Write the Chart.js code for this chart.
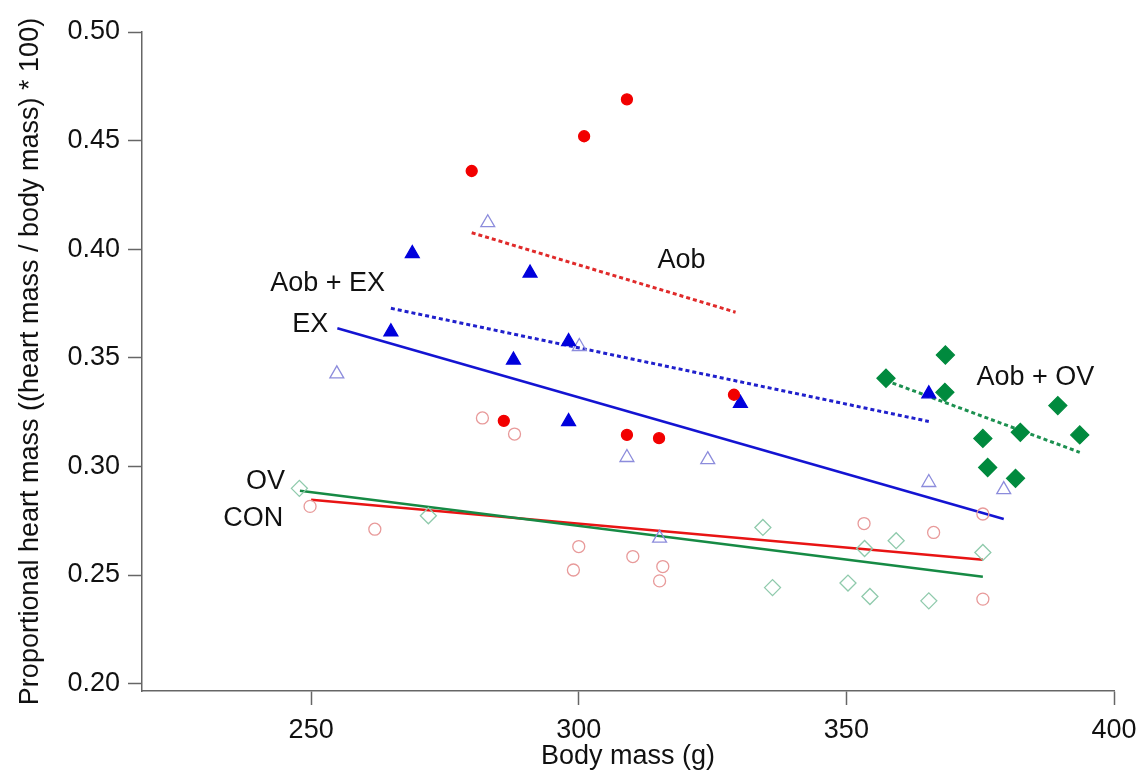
<!DOCTYPE html>
<html>
<head>
<meta charset="utf-8">
<script src="https://cdn.jsdelivr.net/npm/chart.js@4.4.1/dist/chart.umd.min.js"></script>
<style>
  html, body { margin: 0; padding: 0; background: #fff; }
</style>
</head>
<body>
<canvas id="chart" width="1141" height="774"></canvas>
<script>
/* ==============================
   Data
============================== */
// Aob - filled red circles
const aobX = [280, 286, 301, 309, 309, 315, 329];
const aobY = [0.436, 0.321, 0.452, 0.469, 0.3145, 0.313, 0.333];

// Aob + EX - filled blue triangles
const aobExX = [264.9, 268.9, 287.8, 290.9, 298.1, 298.1, 330.2, 365.4];
const aobExY = [0.362, 0.398, 0.349, 0.389, 0.3575, 0.3206, 0.329, 0.3334];

// EX - open blue triangles
const exX = [254.8, 283.0, 300.1, 309.0, 315.1, 324.1, 365.4, 379.4];
const exY = [0.3426, 0.4122, 0.3552, 0.3041, 0.267, 0.3031, 0.2926, 0.2893];

// OV - open green diamonds
const ovX = [247.8, 271.9, 334.4, 336.2, 350.3, 353.4, 354.4, 359.3, 365.4, 375.5];
const ovY = [0.2899, 0.2773, 0.2719, 0.2442, 0.2463, 0.2622, 0.2401, 0.2658, 0.2381, 0.2604];

// CON - open red circles
const conX = [249.8, 261.9, 282.0, 288.0, 299.0, 300.0, 310.1, 315.1, 315.7, 353.3, 366.3, 375.5, 375.5];
const conY = [0.2816, 0.2711, 0.3223, 0.3149, 0.2523, 0.2631, 0.2585, 0.2473, 0.2539, 0.2737, 0.2696, 0.2781, 0.2389];

// Aob + OV - filled green diamonds
const aobOvX = [357.4, 368.4, 368.5, 375.5, 376.4, 381.6, 382.5, 389.5, 393.6];
const aobOvY = [0.3406, 0.3341, 0.3513, 0.3129, 0.2995, 0.2945, 0.3157, 0.328, 0.3145];

// regression lines (end points)
const fitAobX = [280, 329.3];
const fitAobY = [0.4076, 0.371];
const fitAobExX = [264.9, 365.4];
const fitAobExY = [0.3728, 0.3207];
const fitExX = [254.9, 379.4];
const fitExY = [0.3636, 0.2758];
const fitOvX = [247.9, 375.5];
const fitOvY = [0.2888, 0.2492];
const fitConX = [250, 375.5];
const fitConY = [0.2847, 0.257];
const fitAobOvX = [357.4, 393.6];
const fitAobOvY = [0.3395, 0.3065];

// group labels (anchored in data units)
const groupLabels = ['Aob', 'Aob + EX', 'EX', 'Aob + OV', 'OV', 'CON'];
const labelX = [319.2, 263.8, 253.2, 374.3, 245.1, 244.8];
const labelY = [0.3948, 0.3843, 0.3652, 0.341, 0.2931, 0.2758];
const labelAlign = ['center', 'right', 'right', 'left', 'right', 'right'];

// ticks
const xTicks = [250, 300, 350, 400];
const yTicks = [0.20, 0.25, 0.30, 0.35, 0.40, 0.45, 0.50];

/* ==============================
   Helpers
============================== */
const FONT = '"Liberation Sans", Arial, Helvetica, sans-serif';
const FSIZE = 27;

function pts(xs, ys) {
    return xs.map((x, i) => ({ x: x, y: ys[i] }));
}

function markers(label, xs, ys, style) {
    return Object.assign({
        label: label,
        data: pts(xs, ys),
        showLine: false,
        borderWidth: 1.3,
        clip: false
    }, style);
}

function fitLine(label, xs, ys, color, dashed) {
    return {
        label: label,
        data: pts(xs, ys),
        showLine: true,
        pointRadius: 0,
        borderColor: color,
        borderWidth: dashed ? 3 : 2.5,
        borderDash: dashed ? [4, 3] : [],
        fill: false,
        order: 5
    };
}

const groupLabelPlugin = {
    id: 'groupLabels',
    afterDatasetsDraw(chart) {
        const { ctx, scales } = chart;
        ctx.save();
        ctx.font = FSIZE + 'px ' + FONT;
        ctx.fillStyle = '#111';
        ctx.textBaseline = 'middle';
        groupLabels.forEach((t, i) => {
            ctx.textAlign = labelAlign[i];
            ctx.fillText(t, scales.x.getPixelForValue(labelX[i]), scales.y.getPixelForValue(labelY[i]));
        });
        ctx.restore();
    }
};

/* ==============================
   Chart
============================== */
const axisColor = '#666';

new Chart(document.getElementById('chart'), {
    type: 'scatter',
    data: {
        datasets: [
            markers('Aob', aobX, aobY, { pointStyle: 'circle', pointRadius: 5.5, backgroundColor: '#f20000', borderColor: '#f20000', order: 1 }),
            markers('Aob + EX', aobExX, aobExY, { pointStyle: 'triangle', pointRadius: 8, backgroundColor: '#0000dc', borderColor: '#0000dc', order: 1 }),
            markers('EX', exX, exY, { pointStyle: 'triangle', pointRadius: 8, backgroundColor: 'rgba(0,0,0,0)', borderColor: '#8c8cdc', order: 2 }),
            markers('OV', ovX, ovY, { pointStyle: 'rectRot', pointRadius: 8, backgroundColor: 'rgba(0,0,0,0)', borderColor: '#8fcaac', order: 2 }),
            markers('CON', conX, conY, { pointStyle: 'circle', pointRadius: 6, backgroundColor: 'rgba(0,0,0,0)', borderColor: '#e89a9a', order: 2 }),
            markers('Aob + OV', aobOvX, aobOvY, { pointStyle: 'rectRot', pointRadius: 9, backgroundColor: '#008a3e', borderColor: '#008a3e', order: 1 }),
            fitLine('fit Aob', fitAobX, fitAobY, '#e02a2a', true),
            fitLine('fit Aob + EX', fitAobExX, fitAobExY, '#2020cc', true),
            fitLine('fit EX', fitExX, fitExY, '#1414d2', false),
            fitLine('fit OV', fitOvX, fitOvY, '#168a44', false),
            fitLine('fit CON', fitConX, fitConY, '#e81414', false),
            fitLine('fit Aob + OV', fitAobOvX, fitAobOvY, '#1c9050', true)
        ]
    },
    options: {
        responsive: false,
        animation: false,
        devicePixelRatio: 1,
        layout: { padding: { top: 32, right: 27, left: 0, bottom: 0 } },
        plugins: {
            legend: { display: false },
            tooltip: { enabled: false }
        },
        scales: {
            x: {
                type: 'linear',
                min: 218.4,
                max: 400,
                afterBuildTicks: s => { s.ticks = xTicks.map(v => ({ value: v })); },
                afterFit: s => { s.height = 83; s.paddingLeft = 0; s.paddingRight = 0; },
                grid: { drawOnChartArea: false, drawTicks: true, tickLength: 14, tickColor: axisColor, tickWidth: 1.5 },
                border: { display: true, color: axisColor, width: 1.5 },
                ticks: { color: '#111', padding: 9, font: { family: FONT, size: FSIZE }, maxRotation: 0 },
                title: { display: true, text: 'Body mass (g)', color: '#111', font: { family: FONT, size: FSIZE }, padding: { top: 0, bottom: 1 } }
            },
            y: {
                type: 'linear',
                min: 0.1966,
                max: 0.50,
                afterBuildTicks: s => { s.ticks = yTicks.map(v => ({ value: v })); },
                afterFit: s => { s.width = 142; s.paddingTop = 0; s.paddingBottom = 0; },
                grid: { drawOnChartArea: false, drawTicks: true, tickLength: 14, tickColor: axisColor, tickWidth: 1.5 },
                border: { display: true, color: axisColor, width: 1.5 },
                ticks: { color: '#111', padding: 8, font: { family: FONT, size: FSIZE }, callback: v => v.toFixed(2) },
                title: { display: true, text: 'Proportional heart mass ((heart mass / body mass) * 100)', color: '#111', font: { family: FONT, size: FSIZE }, padding: { top: 14, bottom: 0 } }
            }
        }
    },
    plugins: [groupLabelPlugin]
});
</script>
</body>
</html>
